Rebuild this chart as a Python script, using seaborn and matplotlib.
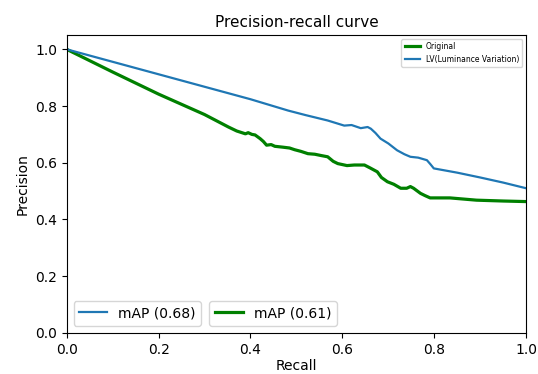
import pandas as pd
import seaborn as sns
import matplotlib.pyplot as plt
from matplotlib.lines import Line2D

# recall / precision
lv_recall = [0.0, 0.10, 0.20, 0.30, 0.40, 0.482, 0.52, 0.568, 0.59, 0.604, 0.62, 0.64,
             0.655, 0.662, 0.672, 0.683, 0.70, 0.719, 0.735, 0.748, 0.765, 0.784, 0.792,
             0.799, 0.85, 0.90, 0.95, 1.0]
lv_precision = [1.0, 0.956, 0.912, 0.868, 0.824, 0.784, 0.768, 0.749, 0.738, 0.731, 0.733,
                0.722, 0.726, 0.72, 0.705, 0.685, 0.668, 0.644, 0.630, 0.621, 0.618, 0.609,
                0.594, 0.58, 0.565, 0.548, 0.53, 0.51]

orig_recall = [0.0, 0.10, 0.20, 0.30, 0.352, 0.37, 0.389, 0.395, 0.403, 0.41, 0.421, 0.428,
               0.435, 0.445, 0.453, 0.47, 0.485, 0.496, 0.51, 0.525, 0.54, 0.555, 0.568,
               0.58, 0.59, 0.61, 0.626, 0.648, 0.66, 0.676, 0.685, 0.698, 0.712, 0.727,
               0.74, 0.748, 0.755, 0.77, 0.78, 0.791, 0.834, 0.892, 0.95, 1.0]
orig_precision = [1.0, 0.92, 0.842, 0.77, 0.726, 0.712, 0.702, 0.706, 0.700, 0.698, 0.685,
                  0.675, 0.662, 0.664, 0.658, 0.655, 0.652, 0.646, 0.640, 0.632, 0.630, 0.625,
                  0.621, 0.605, 0.597, 0.590, 0.592, 0.592, 0.582, 0.568, 0.548, 0.533, 0.524,
                  0.51, 0.51, 0.516, 0.51, 0.492, 0.484, 0.476, 0.476, 0.468, 0.465, 0.463]

map_labels = ['mAP (0.68)', 'mAP (0.61)']

df_lv = pd.DataFrame({'Recall': lv_recall, 'Precision': lv_precision})
df_orig = pd.DataFrame({'Recall': orig_recall, 'Precision': orig_precision})

fig = plt.figure(figsize=(5.38, 3.74), dpi=100)
ax = fig.add_axes([0.124, 0.110, 0.854, 0.796])

sns.lineplot(x='Recall', y='Precision', data=df_orig, ax=ax, color='green',
             linewidth=2.3, sort=False, estimator=None, label='Original')
sns.lineplot(x='Recall', y='Precision', data=df_lv, ax=ax, color='#1f77b4',
             linewidth=1.6, sort=False, estimator=None, label='LV(Luminance Variation)')

ax.set_xlim(0, 1)
ax.set_ylim(0, 1.05)
ax.set_xlabel('Recall', labelpad=2)
ax.set_ylabel('Precision')
ax.set_title('Precision-recall curve', fontsize=11)

leg1 = ax.legend(loc='upper right', fontsize=5.5)
ax.add_artist(leg1)

h_blue = Line2D([], [], color='#1f77b4', linewidth=1.6)
h_green = Line2D([], [], color='green', linewidth=2.3)
leg2 = ax.legend([h_blue], [map_labels[0]], loc='lower left', bbox_to_anchor=(0.0, 0.0), fontsize=10)
ax.add_artist(leg2)
ax.legend([h_green], [map_labels[1]], loc='lower left', bbox_to_anchor=(0.295, 0.0), fontsize=10)

plt.savefig('out.png')
